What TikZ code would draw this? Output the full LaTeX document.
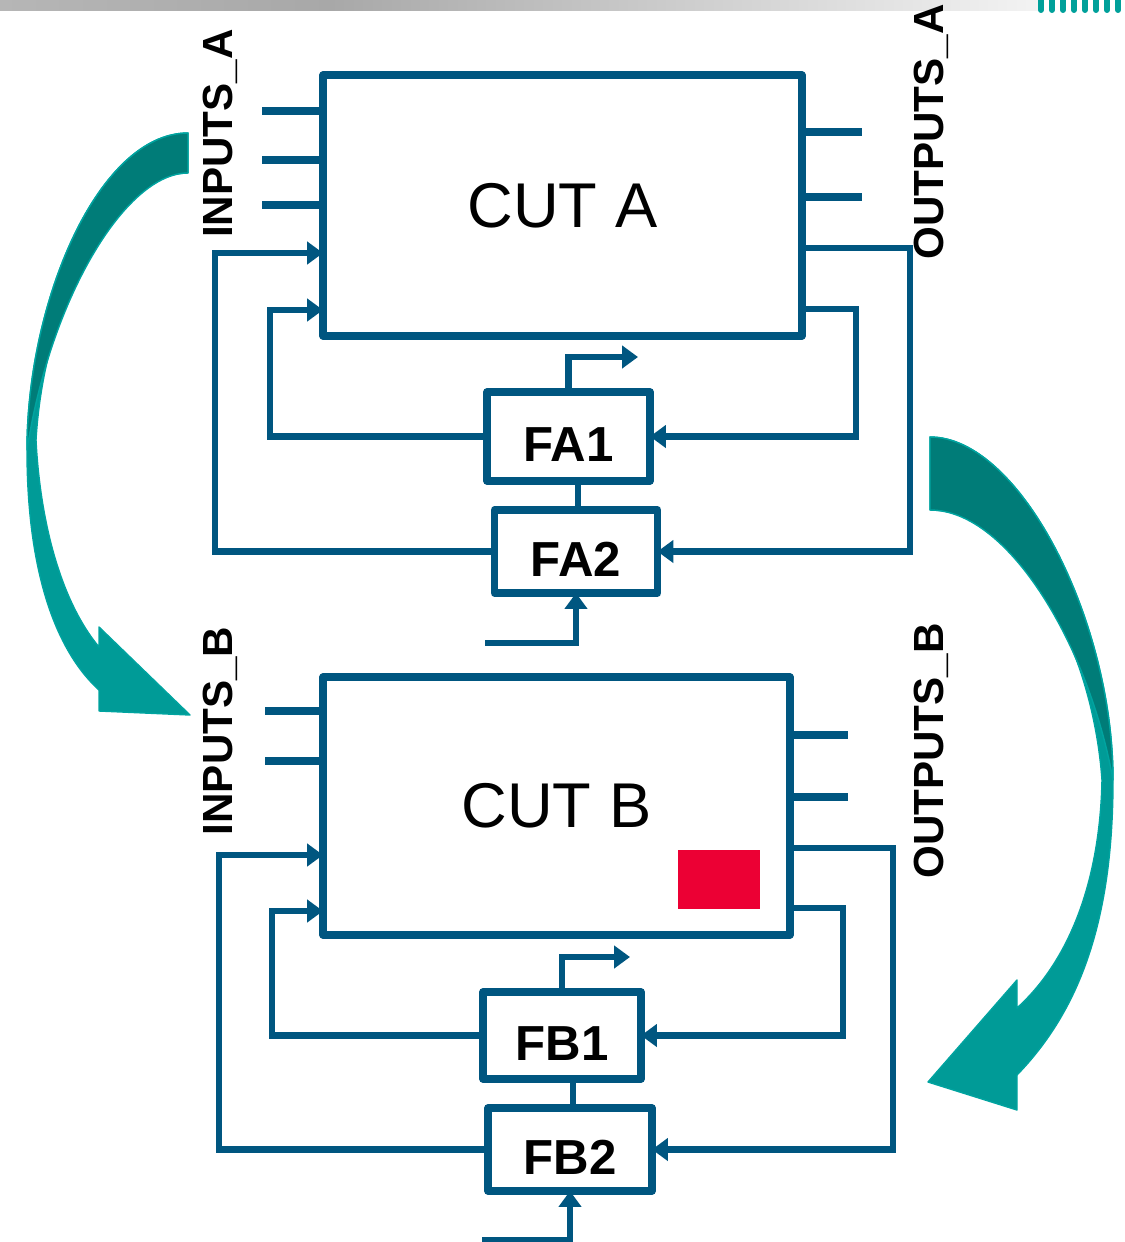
\documentclass[tikz,border=0pt]{standalone}
\usepackage{fontspec}
\setmainfont{Liberation Sans}
\usetikzlibrary{arrows.meta}
\definecolor{wire}{RGB}{0,86,128}
\definecolor{tealdark}{RGB}{0,124,120}
\definecolor{teallight}{RGB}{0,155,151}
\definecolor{tealedge}{RGB}{0,164,160}
\definecolor{alarm}{RGB}{236,0,52}
\definecolor{barA}{RGB}{182,182,182}
\definecolor{barB}{RGB}{168,168,168}
\definecolor{barC}{RGB}{243,243,243}
\definecolor{dashteal}{RGB}{0,160,154}

\begin{document}
\begin{tikzpicture}[x=0.02cm,y=-0.02cm,
  arrowend/.style={-{Triangle[length=9pt,width=12.5pt]}},
  cutbox/.style={draw=wire, line width=4.2pt, line join=round, inner sep=0pt, outer sep=0pt,
                 font=\fontsize{36}{40}\selectfont},
  funcbox/.style={draw=wire, line width=4.2pt, line join=round, inner sep=0pt, outer sep=0pt,
                  text height=28pt, text depth=0pt,
                  font=\fontsize{28}{32}\selectfont\bfseries},
  wireline/.style={draw=wire, line width=3.5pt},
  stub/.style={draw=wire, line width=5pt},
  portlabel/.style={rotate=90, anchor=base, inner sep=0pt,
                    font=\fontsize{24}{28}\selectfont\bfseries},
  bigarrow/.style={draw=tealedge, line width=0.8pt, line join=round},
  ]
\useasboundingbox (0,0) rectangle (1125,1242);

% header bar and dash ornament
\shade[left color=barA, right color=barB] (0,0) rectangle (330,10);
\shade[left color=barB, right color=barC] (329.5,0) rectangle (1040,10);
\foreach \i in {0,...,7}
  \draw[dashteal, line width=3.4pt, line cap=round] (1041+11*\i,-6) -- (1041+11*\i,10);

% curved transfer arrow, left side
\fill[teallight, bigarrow] (188,133) .. controls (99,133) and (27,300) .. (27,450)
  .. controls (27,570) and (55,650) .. (99,690) -- (99,711) -- (190,715) -- (99,627) -- (99,647)
  .. controls (60,600) and (40,520) .. (36,440) .. controls (45,290) and (120,173) .. (188,173) -- cycle;
\fill[tealdark, bigarrow] (188,133) .. controls (99,133) and (27,300) .. (27,450)
  .. controls (50,300) and (125,173) .. (188,173) -- cycle;

% curved transfer arrow, right side
\fill[teallight, bigarrow] (930,437) .. controls (1020,437) and (1113,620) .. (1113,780)
  .. controls (1113,920) and (1080,1010) .. (1017,1075) -- (1017,1110) -- (928,1082) -- (1017,980) -- (1017,1008)
  .. controls (1070,960) and (1100,880) .. (1102,780) .. controls (1092,640) and (1015,510) .. (930,510) -- cycle;
\fill[tealdark, bigarrow] (930,437) .. controls (1020,437) and (1113,620) .. (1113,780)
  .. controls (1090,650) and (1010,510) .. (930,510) -- cycle;

% ---------------- block A ----------------
\node[cutbox, minimum width=9.58cm, minimum height=5.22cm] (cutA) at (562.5,205.5) {CUT A};
\node[funcbox, minimum width=3.26cm, minimum height=1.78cm] (fa1) at (568.5,436.5) {FA1};
\node[funcbox, minimum width=3.26cm, minimum height=1.66cm] (fa2) at (576,551.5) {FA2};

\foreach \y [count=\k] in {111,160,205} {
  \coordinate (ia\k) at (262,\y);
  \draw[stub] (ia\k) -- (ia\k -| cutA.west);
}
\foreach \y [count=\k] in {132,197} {
  \coordinate (oa\k) at (862,\y);
  \draw[stub] (oa\k -| cutA.east) -- (oa\k);
}

\coordinate (lA1) at (215,253);
\coordinate (lA2) at (270,310);
\draw[wireline, arrowend] (fa2.west) -| (lA1) -- (lA1 -| cutA.west);
\draw[wireline, arrowend] (fa1.west) -| (lA2) -- (lA2 -| cutA.west);

\coordinate (rA1) at (910,248);
\coordinate (rA2) at (856,309);
\draw[wireline, arrowend] (rA1 -| cutA.east) -- (rA1) |- (fa2.east);
\draw[wireline, arrowend] (rA2 -| cutA.east) -- (rA2) |- (fa1.east);

\coordinate (linkA) at (578,0);
\draw[wireline] (fa1.south -| linkA) -- (fa2.north -| linkA);
\coordinate (fa1out) at (638,357);
\draw[wireline, arrowend] (fa1.north) |- (fa1out);
\coordinate (fa2in) at (485,643);
\draw[wireline, arrowend] (fa2in) -| (fa2.south);

% ---------------- block B ----------------
\node[cutbox, minimum width=9.34cm, minimum height=5.16cm] (cutB) at (556.5,806) {CUT B};
\node[fill=alarm, minimum width=1.64cm, minimum height=1.18cm, inner sep=0pt] (alarmB) at (719,879.5) {};
\node[funcbox, minimum width=3.16cm, minimum height=1.74cm] (fb1) at (562,1035.5) {FB1};
\node[funcbox, minimum width=3.28cm, minimum height=1.66cm] (fb2) at (570,1149.5) {FB2};

\foreach \y [count=\k] in {711,761} {
  \coordinate (ib\k) at (265,\y);
  \draw[stub] (ib\k) -- (ib\k -| cutB.west);
}
\foreach \y [count=\k] in {735,797} {
  \coordinate (ob\k) at (848,\y);
  \draw[stub] (ob\k -| cutB.east) -- (ob\k);
}

\coordinate (lB1) at (219,855);
\coordinate (lB2) at (272,911);
\draw[wireline, arrowend] (fb2.west) -| (lB1) -- (lB1 -| cutB.west);
\draw[wireline, arrowend] (fb1.west) -| (lB2) -- (lB2 -| cutB.west);

\coordinate (rB1) at (893,848);
\coordinate (rB2) at (843,908);
\draw[wireline, arrowend] (rB1 -| cutB.east) -- (rB1) |- (fb2.east);
\draw[wireline, arrowend] (rB2 -| cutB.east) -- (rB2) |- (fb1.east);

\coordinate (linkB) at (573,0);
\draw[wireline] (fb1.south -| linkB) -- (fb2.north -| linkB);
\coordinate (fb1out) at (630,957);
\draw[wireline, arrowend] (fb1.north) |- (fb1out);
\coordinate (fb2in) at (482,1240);
\draw[wireline, arrowend] (fb2in) -| (fb2.south);

% port group labels
\node[portlabel] (lblIA) at (232,133.5) {INPUTS\_A};
\node[portlabel] (lblIB) at (232,731) {INPUTS\_B};
\node[portlabel] (lblOA) at (943,132) {OUTPUTS\_A};
\node[portlabel] (lblOB) at (943,751) {OUTPUTS\_B};
\end{tikzpicture}
\end{document}
